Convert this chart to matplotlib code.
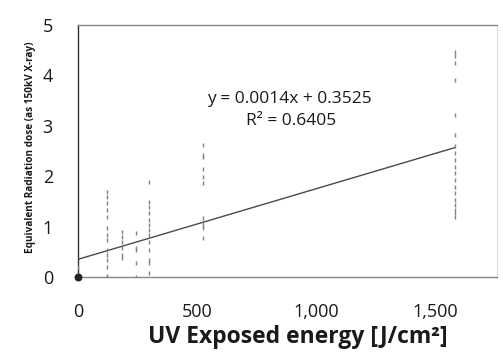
import matplotlib
matplotlib.use("Agg")
import matplotlib.pyplot as plt
import numpy as np

plt.rcParams['font.family'] = ['Open Sans', 'DejaVu Sans']

# Measured dose per UV exposure group
x_0 = [0, 0, 0, 0]
y_0 = [0.0, 0.02, 0.04, 0.2]
x_120 = [120] * 14
y_120 = [1.69, 1.59, 1.47, 1.33, 1.19, 0.97, 0.83, 0.73, 0.54, 0.44, 0.34, 0.2, 0.02, 0.0]
x_185 = [185] * 6
y_185 = [0.89, 0.79, 0.69, 0.58, 0.44, 0.38]
x_245 = [245] * 5
y_245 = [0.87, 0.58, 0.54, 0.28, 0.0]
x_300 = [300] * 13
y_300 = [1.88, 1.49, 1.39, 1.27, 1.13, 1.03, 0.93, 0.83, 0.69, 0.54, 0.34, 0.28, 0.08]
x_525 = [525] * 11
y_525 = [2.62, 2.42, 2.38, 2.14, 1.98, 1.86, 1.17, 1.09, 1.03, 0.97, 0.77]
x_1584 = [1584] * 19
y_1584 = [4.46, 4.38, 4.25, 3.91, 3.21, 2.82, 2.60, 2.46, 2.32, 2.18, 2.06,
          1.92, 1.79, 1.67, 1.53, 1.43, 1.33, 1.27, 1.19]

# Linear fit shown on the chart
slope = 0.0014
intercept = 0.3525
r_squared = 0.6405

x_ticks = [0, 500, 1000, 1500]
x_tick_labels = ['0', '500', '1,000', '1,500']
y_ticks = [0, 1, 2, 3, 4, 5]

fig = plt.figure(figsize=(5.03, 3.53), dpi=100)
ax = fig.add_axes([0.155, 0.215, 0.833, 0.714])

xs = x_0 + x_120 + x_185 + x_245 + x_300 + x_525 + x_1584
ys = y_0 + y_120 + y_185 + y_245 + y_300 + y_525 + y_1584
ax.scatter(xs, ys, s=5, marker='|', color='#808080', linewidths=1.0, zorder=3)
ax.scatter([0], [0], s=22, color='#222222', zorder=4, clip_on=False)

fit_x = np.array([0, max(x_1584)])
ax.plot(fit_x, slope * fit_x + intercept, color='#4a4a4a', lw=1.0, zorder=2)

ax.text(890, 3.53, f'y = {slope}x + {intercept}', ha='center', va='center',
        fontsize=12.5, color='#1a1a1a')
ax.text(895, 3.10, f'R² = {r_squared}', ha='center', va='center',
        fontsize=12.5, color='#1a1a1a')

ax.set_xlim(0, 1760)
ax.set_ylim(0, 5)
ax.set_xticks(x_ticks)
ax.set_xticklabels(x_tick_labels)
ax.set_yticks(y_ticks)
ax.tick_params(axis='x', length=0, labelsize=13, pad=19, colors='#1a1a1a')
ax.tick_params(axis='y', length=0, labelsize=13, pad=18, colors='#1a1a1a')
ax.spines['left'].set_color('#333333')
ax.spines['left'].set_linewidth(1.0)
for side in ['bottom', 'top']:
    ax.spines[side].set_color('#888888')
    ax.spines[side].set_linewidth(1.0)
ax.spines['right'].set_color('#dddddd')
ax.spines['right'].set_linewidth(0.8)

fig.text(0.593, 1 - 337 / 353, 'UV Exposed energy [J/cm²]', ha='center',
         va='center', fontsize=16.5, fontweight='bold', color='#1a1a1a')
fig.text(0.06, 0.583, 'Equivalent Radiation dose (as 150kV X-ray)', ha='center',
         va='center', rotation=90, fontsize=7.2, fontweight='bold', color='#1a1a1a')

fig.savefig('out.png', dpi=100, facecolor='white')
